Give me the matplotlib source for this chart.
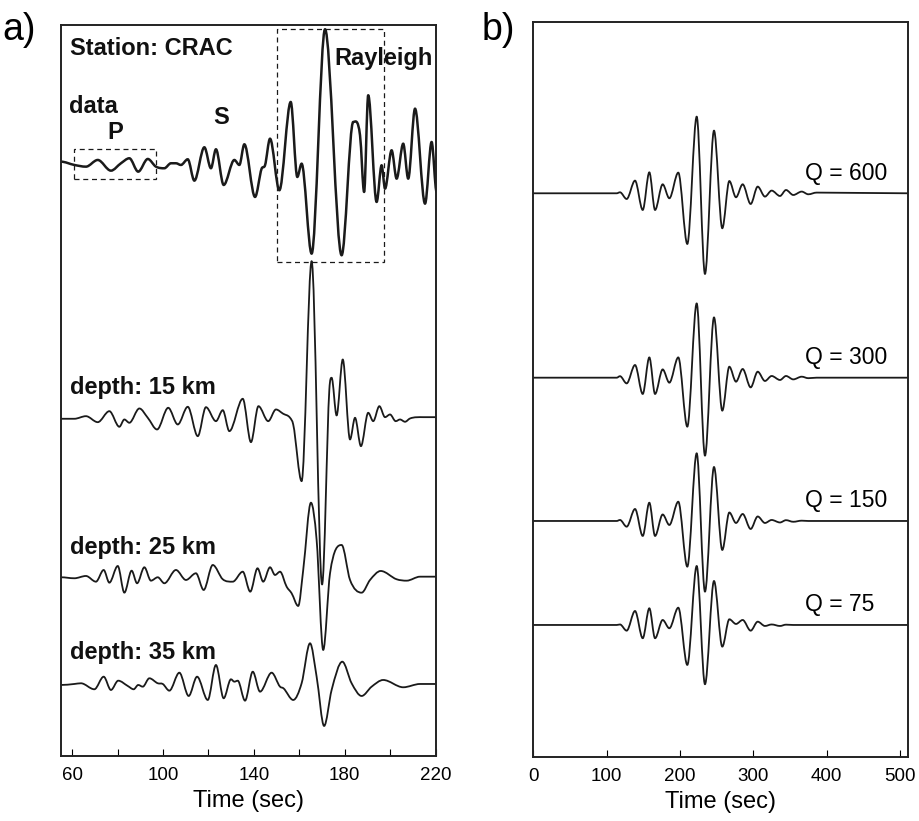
import numpy as np
import matplotlib.pyplot as plt
from matplotlib.patches import Rectangle, PathPatch
from matplotlib.path import Path

plt.rcParams['font.family'] = ['Liberation Sans', 'DejaVu Sans']

# ---- panel a: station CRAC, data and synthetics for 3 source depths ----
# peaks / troughs (time in s, amplitude in plot units)
t_data = [55.1, 61.0, 66.1, 71.3, 77.1, 81.5, 85.2, 89.1, 93.3, 96.9, 100.6, 103.5, 105.7, 107.9,
          110.9, 113.8, 118.2, 121.1, 123.3, 126.7, 131.4, 133.6, 135.8, 140.5, 143.4, 144.9,
          147.1, 151.2, 156.2, 159.1, 161.0, 165.4, 171.3, 178.6, 183.7, 186.7, 188.5, 190.3,
          194.0, 196.2, 197.7, 200.6, 202.8, 205.7, 207.9, 210.9, 215.3, 218.2, 220.4]
a_data = [2.3, -1, -2.7, 4, -6.7, 0.7, 5.7, -7.7, 5, -2.7, -4.3, 0.7, 0.7, -1,
          4.7, -16.7, 16.7, -4.3, 14.7, -21, 4, -1, 19.7, -33, -4.7, -1.3,
          25.3, -26.3, 62, -13, 0.3, -89.7, 134.7, -91.3, 42, 28.7, -28, 68.7,
          -38, -1.3, -24.7, 13.7, -14.7, 20.3, -14.7, 55.3, -39.7, 22, -28]

t_15 = [55.1, 61.0, 66.1, 71.3, 76.4, 80.8, 83.0, 85.2, 89.6, 93.3, 97.4, 102.3, 106.5, 110.9,
        115.3, 118.9, 123.3, 126.3, 129.2, 135.1, 138.7, 142.0, 146.3, 149.7, 152.9, 155.9,
        157.3, 161.0, 165.4, 170.0, 173.2, 174.2, 176.4, 179.1, 182.3, 184.5, 187.1, 190.3,
        192.5, 195.2, 197.7, 199.9, 202.4, 204.3, 206.5, 208.7, 214.5, 220.0]
a_15 = [-0.8, -0.8, 1.8, -4.2, 6.8, -8.8, -1.5, -4.8, 9.5, 0.2, -11.5, 10.2, -6.5, 11.2,
        -18.2, 10.8, -3.2, 7.8, -13.2, 19.2, -24.2, 11.8, -3.2, 8.5, 4.2, 0.2,
        -6.5, -63.2, 156.8, -166.5, 28.5, 40.2, 2.5, 58.5, -21.5, 0.2, -28.2, 5.2,
        -3.2, 11.8, 0.8, 3.5, -3.2, -1.5, -3.8, -0.5, 0.8, 0.8]

t_25 = [55.1, 61.0, 66.1, 70.5, 73.9, 76.4, 80.1, 83.0, 86.2, 88.6, 91.8, 94.7, 97.7, 100.6,
        105.7, 110.1, 114.5, 117.9, 121.9, 126.3, 130.7, 135.1, 138.4, 141.6, 144.1, 147.1,
        149.3, 151.5, 154.4, 156.6, 159.5, 161.7, 165.1, 167.6, 170.5, 173.5, 178.6, 182.3,
        187.4, 191.1, 195.8, 202.8, 207.2, 213.1, 220.0]
a_25 = [0.2, -0.8, 1.5, -4.2, 7.5, -5.2, 11.5, -15.2, 6.8, -5.8, 10.2, -3.2, 0.2, -5.8,
        7.5, -2.5, 4.2, -12.5, 12.5, -1.8, -4.2, 5.8, -14.2, 9.2, -4.2, 10.2,
        2.5, 5.8, -9.2, -15.8, -28.5, 7.5, 74.8, 37.5, -72.5, 4.2, 32.5, -2.5,
        -15.2, -2.5, 6.5, -1.8, -3.2, 0.8, 0.8]

t_35 = [55.1, 61.0, 63.9, 69.8, 73.9, 77.1, 80.3, 84.5, 87.1, 89.1, 91.1, 94.0, 97.7, 99.9,
        102.8, 107.2, 111.3, 115.0, 119.7, 123.3, 126.7, 129.9, 131.4, 132.9, 136.1, 139.5,
        142.7, 147.8, 151.5, 153.0, 157.3, 161.0, 164.7, 167.6, 170.9, 174.2, 178.9, 183.0,
        187.4, 191.8, 196.9, 205.7, 213.1, 220.0]
a_35 = [-0.5, 0.5, 1.2, -4.8, 7.8, -5.5, 3.8, -1.5, -4.8, -0.5, -2.2, 6.2, 1.2, 0.5,
        -6.2, 11.8, -11.5, 7.8, -15.5, 19.5, -13.8, 5.2, 2.8, 3.8, -16.2, 12.8,
        -7.2, 11.8, -2.2, -3.8, -15.5, 1.2, 41.2, 7.8, -41.5, -5.5, 22.8, 1.2,
        -11.5, -2.2, 4.5, -2.8, 0.5, 0.5]

traces_a = [(t_data, a_data), (t_15, a_15), (t_25, a_25), (t_35, a_35)]
offsets_a = [592, 338, 178.5, 71.5]
labels_a = ['data', 'depth: 15 km', 'depth: 25 km', 'depth: 35 km']

# ---- panel b: synthetics for different Q ----
t_q = [0, 113.7, 118.2, 127.3, 138.7, 149.2, 158.2, 166.0, 176.4, 185.5, 197.7, 210.0, 222.8,
       234.1, 246.4, 257.7, 267.3, 276.4, 285.5, 296.4, 306.0, 315.9, 325.0, 336.4, 344.6,
       354.5, 366.0, 375.0, 386.4, 511.4]
a_q600 = [0, 0, 1, -5.7, 12.7, -16.7, 21, -16.7, 9, -5, 20.7, -50.7, 76.7,
          -80.7, 62.7, -35, 12.3, -4, 9, -10.7, 6.7, -3.3, 2.7, -2.7, 3.3,
          -1.7, 1.7, -1, 0.7, 0]
a_q300 = [0, 0, 1.5, -5.7, 12.7, -16.3, 20.3, -16.3, 8.3, -5, 20.3, -49, 74.3,
          -78, 60.3, -33, 11, -4, 8.7, -9.7, 6, -3.3, 1.7, -2.3, 1.7,
          -1.7, 1, -0.5, 0, 0]
a_q150 = [0, 0, 1, -5.7, 12, -15, 18.3, -15, 6.5, -4, 19.3, -45.7, 67.7,
          -70.7, 54, -29, 8.5, -2, 7, -8, 4.5, -2, 1, -1.5, 0.8,
          -0.8, 0.3, 0, 0, 0]
a_q75 = [0, 0, 0.5, -5.7, 14, -13.3, 16.7, -13.3, 5, -3.3, 17.3, -40, 59,
         -59.3, 44, -21.7, 5.7, 1, 5, -5.7, 3.3, -1, 0.5, -1, 0.3,
         0, 0, 0, 0, 0]

traces_b = [a_q600, a_q300, a_q150, a_q75]
offsets_b = [563.7, 379.3, 236, 132]
labels_b = ['Q = 600', 'Q = 300', 'Q = 150', 'Q = 75']


def wiggle(ax, t, a, offset, lw):
    # draw the picked points as a smooth curve (cubic bezier, flat at the extrema)
    x = np.asarray(t, float)
    y = np.asarray(a, float) + offset
    n = len(x)
    sec = np.diff(y) / np.diff(x)
    m = np.zeros(n)
    for i in range(1, n - 1):
        if sec[i - 1] * sec[i] > 0:
            m[i] = 0.5 * (sec[i - 1] + sec[i])
    verts = [(x[0], y[0])]
    codes = [Path.MOVETO]
    for i in range(n - 1):
        dx = (x[i + 1] - x[i]) / 3.0
        verts += [(x[i] + dx, y[i] + m[i] * dx),
                  (x[i + 1] - dx, y[i + 1] - m[i + 1] * dx),
                  (x[i + 1], y[i + 1])]
        codes += [Path.CURVE4] * 3
    ax.add_patch(PathPatch(Path(verts, codes), fill=False, ec='#1a1a1a', lw=lw,
                           joinstyle='round', capstyle='round'))


fig = plt.figure(figsize=(9.2, 8.21), dpi=100)
ax1 = fig.add_axes([0.0660, 0.0792, 0.4076, 0.8904])
ax2 = fig.add_axes([0.5797, 0.0780, 0.4076, 0.8952])

# panel a
for i, (t, a) in enumerate(traces_a):
    wiggle(ax1, t, a, offsets_a[i], 1.8 if i == 0 else 1.3)

ax1.add_patch(Rectangle((60.9, 576.7), 96.9 - 60.9, 607 - 576.7, fill=False,
                        ls=(0, (4, 3)), lw=0.9, ec='#1a1a1a'))
ax1.add_patch(Rectangle((150.3, 494.3), 197.4 - 150.3, 727 - 494.3, fill=False,
                        ls=(0, (4, 3)), lw=0.9, ec='#1a1a1a'))

bold = dict(fontsize=17, fontweight='bold', color='#111111', va='baseline')
ax1.text(59.1, 701, 'Station: CRAC', **bold)
ax1.text(175.3, 691, 'Rayleigh', **bold)
ax1.text(58.7, 643.3, 'data', **bold)
ax1.text(78.9, 616.7, 'P', ha='center', **bold)
ax1.text(125.5, 632, 'S', ha='center', **bold)
ax1.text(59.1, 362, labels_a[1], **bold)
ax1.text(59.1, 202, labels_a[2], **bold)
ax1.text(59.1, 97, labels_a[3], **bold)

ax1.set_xlim(55, 220)
ax1.set_ylim(0, 731)
ax1.set_xticks([60, 80, 100, 120, 140, 160, 180, 200, 220])
ax1.set_xticklabels(['60', '', '100', '', '140', '', '180', '', '220'])
ax1.set_xlabel('Time (sec)', fontsize=17, labelpad=4)

# panel b
for i, a in enumerate(traces_b):
    wiggle(ax2, t_q, a, offsets_b[i], 1.3)
    ax2.text(370.5, offsets_b[i] + 13.5, labels_b[i], fontsize=16.5, va='baseline')

ax2.set_xlim(0, 511.4)
ax2.set_ylim(0, 735)
ax2.set_xticks([0, 100, 200, 300, 400, 500])
ax2.set_xlabel('Time (sec)', fontsize=17, labelpad=4)

for ax in (ax1, ax2):
    ax.set_yticks([])
    ax.tick_params(axis='x', direction='in', length=5, width=0.8, labelsize=13.5, pad=8)
    for s in ax.spines.values():
        s.set_linewidth(1.4)
        s.set_color('#222222')

fig.text(0.003, 0.951, 'a)', fontsize=27)
fig.text(0.523, 0.951, 'b)', fontsize=27)

fig.savefig('out.png', dpi=100)
